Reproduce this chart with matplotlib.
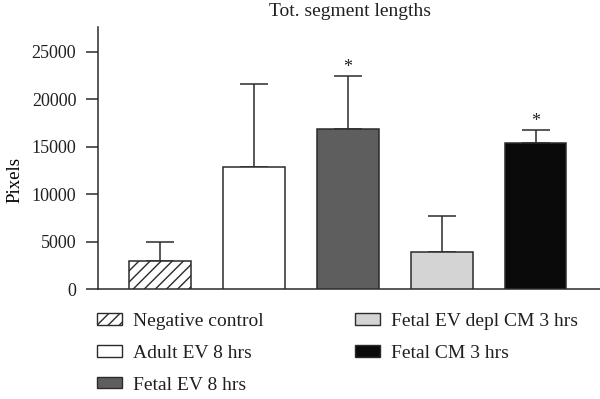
import matplotlib
matplotlib.use('Agg')
import matplotlib.pyplot as plt
from matplotlib.patches import Patch
import numpy as np

# data
groups = ['Negative control', 'Adult EV 8 hrs', 'Fetal EV 8 hrs',
          'Fetal EV depl CM 3 hrs', 'Fetal CM 3 hrs']
means = [2950, 12800, 16850, 3870, 15430]
upper_err = [2010, 8820, 5580, 3800, 1270]
significant = [False, False, True, False, True]

fills = ['white', 'white', '#5e5e5e', '#d3d4d3', '#0a0a0a']
hatches = ['///', '', '', '', '']
EDGE = '#2b2b2b'
INK = '#231f20'

plt.rcParams['font.family'] = ['Liberation Serif', 'DejaVu Serif']
plt.rcParams['font.size'] = 13
plt.rcParams['hatch.linewidth'] = 1.0
plt.rcParams['hatch.color'] = INK
plt.rcParams['text.color'] = INK

fig = plt.figure(figsize=(6.0, 3.99), dpi=100)
ax = fig.add_axes([98 / 600., 110 / 399., 502 / 600., 262 / 399.])

x = np.arange(len(groups))
bars = ax.bar(x, means, width=0.66, color=fills, edgecolor=EDGE,
              linewidth=1.1, zorder=3)
for b, h in zip(bars, hatches):
    b.set_hatch(h)

ax.errorbar(x, means, yerr=[np.zeros(len(means)), upper_err], fmt='none',
            ecolor=EDGE, elinewidth=1.1, capsize=10, capthick=1.1, zorder=2)

for xi, m, e, s in zip(x, means, upper_err, significant):
    if s:
        ax.annotate('*', xy=(xi, m + e), xytext=(0, 0), textcoords='offset points',
                    ha='center', va='bottom', fontsize=13)

ax.set_xlim(-0.66, 4.687)
ax.set_ylim(0, 27600)
ax.set_yticks([0, 5000, 10000, 15000, 20000, 25000])
ax.set_xticks([])
for side in ['top', 'right']:
    ax.spines[side].set_visible(False)
for side in ['left', 'bottom']:
    ax.spines[side].set_color(EDGE)
    ax.spines[side].set_linewidth(1.1)
ax.tick_params(axis='y', direction='out', length=8.6, width=1.1, color=EDGE,
               pad=7, labelsize=13, labelcolor=INK)

ax.set_ylabel('Pixels', fontsize=13.5)
ax.yaxis.set_label_coords(-0.148, 0.416)

fig.text(350 / 600., 1 - 12 / 399., 'Tot. segment lengths', ha='center',
         va='center', fontsize=14)

handles = [Patch(facecolor=f, edgecolor=EDGE, hatch=h, linewidth=1.0)
           for f, h in zip(fills, hatches)]
leg_kw = dict(frameon=False, loc='upper left', borderpad=0, borderaxespad=0,
              handlelength=1.29, handleheight=0.52, handletextpad=0.57,
              labelspacing=0.76, fontsize=14)
leg1 = fig.legend(handles[:3], groups[:3], bbox_to_anchor=(97 / 600., 1 - 313 / 399.), **leg_kw)
leg2 = fig.legend(handles[3:], groups[3:], bbox_to_anchor=(355 / 600., 1 - 313 / 399.), **leg_kw)

fig.savefig('out.png', dpi=100)
